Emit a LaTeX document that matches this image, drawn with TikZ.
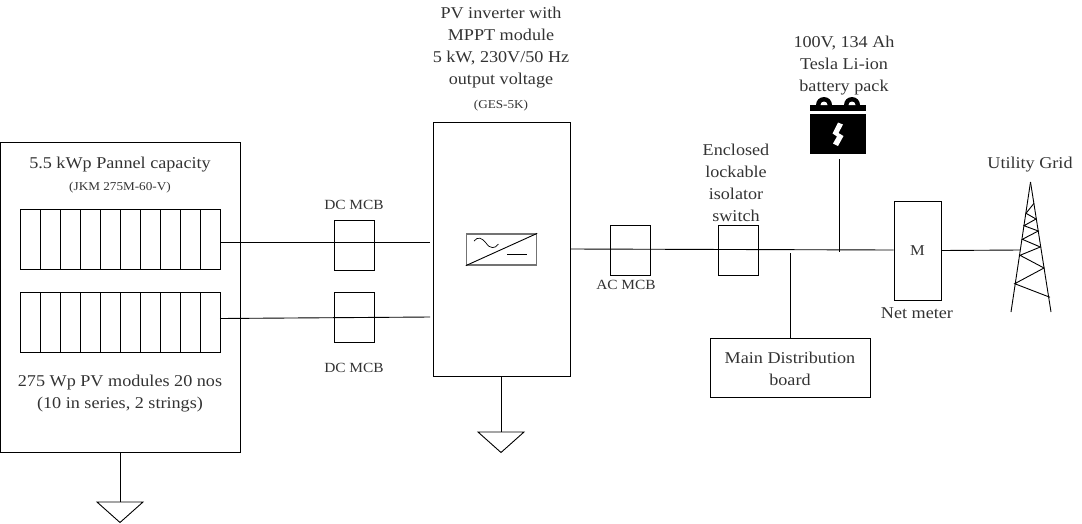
\documentclass[tikz,border=0pt]{standalone}
\usepackage{fontspec}
\setmainfont[FakeStretch=1.1]{Liberation Serif}
\tikzset{
  x=1pt,y=-1pt,
  every path/.style={line width=0.9pt},
  box/.style={draw,inner sep=0pt,minimum width=#1},
  lbl/.style={inner sep=0pt,align=center,font=\fontsize{16.5}{22}\selectfont,text=black!80},
  caps/.style={inner sep=0pt,font=\fontsize{14}{18}\selectfont,text=black!80},
  small/.style={inner sep=0pt,font=\fontsize{12}{13}\selectfont,text=black!80},
  cell/.style={draw,inner sep=0pt,minimum width=20pt,minimum height=60pt},
}
\begin{document}
\begin{tikzpicture}
\useasboundingbox (0,0) rectangle (1082,523);
% boxes
\node[box=240pt,minimum height=310pt] (array) at (120,297) {};
\foreach \i in {1,...,10}{
  \node[cell] (a\i) at ({10+20*\i},239) {};
  \node[cell] (b\i) at ({10+20*\i},322) {};
}
\node[box=40pt,minimum height=50pt] (dc1) at (354,245) {};
\node[box=40pt,minimum height=50pt] (dc2) at (354,317.5) {};
\node[box=137pt,minimum height=254pt] (inv) at (501.5,249.7) {};
\node[box=70pt,minimum height=31pt,draw=black!55,line width=1.2pt] (sym) at (501.5,249.5) {};
\node[box=40pt,minimum height=50pt] (ac) at (630.5,250) {};
\node[box=40pt,minimum height=50pt] (iso) at (738.5,250) {};
\node[box=47pt,minimum height=99pt] (meter) at (917.5,250.5) {};
\node[inner sep=0pt,text=black!80] (mlabel) at (917.5,250.5) {\fontsize{15}{18}\selectfont M};
\node[box=160pt,minimum height=59pt] (mdb) at (790,367.5) {};
% inverter symbol
\draw (sym.south west) -- (sym.north east);
\draw[line width=0.7pt] (474,241) .. controls (478,236) and (482,238) .. (486,243) .. controls (490,249) and (495,249) .. (498.5,244);
\draw (507,254) -- (527,254);
% battery
\fill (810,105) rectangle (866,110.7);
\fill (810,113.7) rectangle (866,153.5);
\fill (816,105) arc[start angle=180,end angle=360,radius=8];
\fill (844,105) arc[start angle=180,end angle=360,radius=8];
\fill[white] (820.5,105) arc[start angle=180,end angle=360,radius=3.5];
\fill[white] (848.5,105) arc[start angle=180,end angle=360,radius=3.5];
\fill[white] (838,122.5) -- (843,124.5) -- (838.5,133) -- (843.5,136) -- (838,146) -- (833,143.5) -- (837,136.5) -- (832.5,133.5) -- cycle;
% tower
\coordinate (tw) at (1020,250);
\draw (1030.5,182) -- (1011,312);
\draw (1030.5,182) -- (1051,312);
\draw (1034,203.3) -- (1026,213.3) -- (1036,219) -- (1024,225.7) -- (1038.3,231) -- (1022.3,239.3) -- (1040.3,247) -- (1020,255.3) -- (1044,268) -- (1014.7,283.7) -- (1050,297.3);
% junctions and connectors
\coordinate (a) at (220,242.5);
\coordinate (b) at (220,318.5);
\coordinate (ia) at (430,242.5);
\coordinate (ib) at (430,317);
\draw (a) -- (ia);
\draw (b) -- (ib);
\coordinate (j1) at (790.3,253);
\coordinate (j2) at (839.5,252);
\coordinate (battbot) at (839.5,159);
\draw (inv.east |- 0,249) -- (meter.west |- 0,250);
\draw (battbot) -- (j2);
\draw (j1) -- (mdb.north -| j1);
\draw (meter.east) -- (tw);
% grounds
\coordinate (g1) at (120,502);
\coordinate (g2) at (501,432);
\draw (array.south) -- (g1);
\draw (g1) ++(-23,0) -- ++(46,0) -- (120,522.5) -- cycle;
\draw (inv.south -| g2) -- (g2);
\draw (g2) ++(-23,0) -- ++(46,0) -- (501,452.5) -- cycle;
% labels
\node[lbl] (t1) at (120,164.5) {5.5 kWp Pannel capacity};
\node[small] (t2) at (120,187.5) {(JKM 275M-60-V)};
\node[lbl] (t3) at (120,394) {275 Wp PV modules 20 nos\\(10 in series, 2 strings)};
\node[caps] (t4) at (354,205) {DC MCB};
\node[caps] (t5) at (354,368) {DC MCB};
\node[lbl] (t6) at (501,47.5) {PV inverter with\\MPPT module\\5 kW, 230V/50 Hz\\output voltage};
\node[small] (t7) at (501,105.5) {(GES-5K)};
\node[caps] (t8) at (626,285) {AC MCB};
\node[lbl] (t9) at (736,183) {Enclosed\\lockable\\isolator\\switch};
\node[lbl] (t10) at (844,65.5) {100V, 134 Ah\\Tesla Li-ion\\battery pack};
\node[lbl] (t11) at (1030,165) {Utility Grid};
\node[lbl] (t12) at (917,313.5) {Net meter};
\node[lbl] (t13) at (790,368.5) {Main Distribution\\board};
\end{tikzpicture}
\end{document}
